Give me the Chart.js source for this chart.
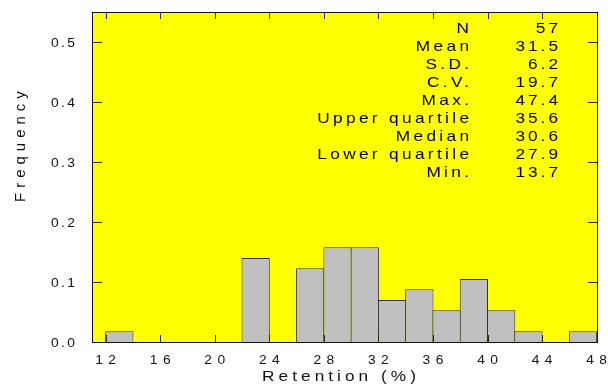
<!DOCTYPE html>
<html>
<head>
<meta charset="utf-8">
<script src="https://cdn.jsdelivr.net/npm/chart.js@4.4.0/dist/chart.umd.min.js"></script>
<style>
  html, body { margin: 0; padding: 0; background: #ffffff; }
  #wrap { width: 608px; height: 386px; }
</style>
</head>
<body>
<div id="wrap"><canvas id="chart" width="608" height="386"></canvas></div>
<script>
// Histogram of retention (%), bins 2 units wide
const binStarts = [12, 22, 26, 28, 30, 32, 34, 36, 38, 40, 42, 46];
const frequencies = [0.018, 0.140, 0.123, 0.158, 0.158, 0.070, 0.088, 0.053, 0.105, 0.053, 0.018, 0.018];
const binWidth = 2;

// Axis ticks
const xTicks = [12, 16, 20, 24, 28, 32, 36, 40, 44, 48];
const yTicks = [0, 0.1, 0.2, 0.3, 0.4, 0.5];

// Summary statistics panel
const statLabels = ['N', 'Mean', 'S.D.', 'C.V.', 'Max.', 'Upper quartile', 'Median', 'Lower quartile', 'Min.'];
const statValues = ['57', '31.5', '6.2', '19.7', '47.4', '35.6', '30.6', '27.9', '13.7'];

const FONT = '"Liberation Sans", Arial, Helvetica, sans-serif';

// wide, loosely spaced text: (x, y) is the visible anchor for the given alignment
function wideText(ctx, text, x, y, opts) {
  const sx = opts.stretch, ls = opts.spacing;
  ctx.save();
  ctx.font = opts.size + 'px ' + FONT;
  ctx.letterSpacing = ls + 'px';
  ctx.textAlign = opts.align;
  ctx.textBaseline = 'alphabetic';
  let shift = 0;
  if (opts.align === 'right') shift = ls * sx;
  else if (opts.align === 'center') shift = ls * sx / 2;
  ctx.translate(x + shift, y);
  ctx.scale(sx, 1);
  ctx.fillText(text, 0, 0);
  ctx.restore();
}

const framePlugin = {
  id: 'frame',
  beforeDraw(chart) {
    const { ctx, chartArea: a } = chart;
    ctx.save();
    ctx.fillStyle = '#ffffff';
    ctx.fillRect(0, 0, chart.width, chart.height);
    ctx.fillStyle = '#ffff00';
    ctx.fillRect(a.left, a.top, a.right - a.left, a.bottom - a.top);
    ctx.restore();
  },
  afterDatasetsDraw(chart) {
    const { ctx, chartArea: a, scales } = chart;
    ctx.save();
    ctx.strokeStyle = '#2a2a00';
    ctx.lineWidth = 1;
    ctx.beginPath();
    xTicks.forEach(v => {
      const px = Math.round(scales.x.getPixelForValue(v)) + 0.5;
      ctx.moveTo(px, a.bottom); ctx.lineTo(px, a.bottom - 7);
      ctx.moveTo(px, a.top); ctx.lineTo(px, a.top + 7);
    });
    yTicks.forEach(v => {
      const py = Math.round(scales.y.getPixelForValue(v)) + 0.5;
      ctx.moveTo(a.left, py); ctx.lineTo(a.left + 10, py);
      ctx.moveTo(a.right, py); ctx.lineTo(a.right - 10, py);
    });
    ctx.stroke();
    ctx.strokeStyle = '#111111';
    ctx.strokeRect(Math.round(a.left) + 0.5, Math.round(a.top) + 0.5,
                   Math.round(a.right - a.left) - 1, Math.round(a.bottom - a.top));
    ctx.restore();
  },
  afterDraw(chart) {
    const { ctx, scales } = chart;
    ctx.save();
    ctx.fillStyle = '#111111';

    // tick labels
    xTicks.forEach(v => {
      wideText(ctx, String(v), scales.x.getPixelForValue(v), 364,
               { size: 12, stretch: 1.15, spacing: 4.7, align: 'center' });
    });
    yTicks.forEach(v => {
      wideText(ctx, v.toFixed(1), 75, scales.y.getPixelForValue(v) + 5.3,
               { size: 12, stretch: 1.15, spacing: 2.1, align: 'right' });
    });

    // statistics panel
    ctx.fillStyle = '#000000';
    statLabels.forEach((label, i) => {
      const y = 33.3 + 18 * i;
      wideText(ctx, label, 469, y, { size: 15, stretch: 1.15, spacing: 2.9, align: 'right' });
      wideText(ctx, statValues[i], 558, y, { size: 15, stretch: 1.15, spacing: 2.6, align: 'right' });
    });

    // axis titles
    ctx.fillStyle = '#111111';
    wideText(ctx, 'Retention (%)', 339, 381, { size: 15, stretch: 1.15, spacing: 3.5, align: 'center' });
    ctx.save();
    ctx.font = '15px ' + FONT;
    ctx.letterSpacing = '5px';
    ctx.textAlign = 'left';
    ctx.translate(25, 202);
    ctx.rotate(-Math.PI / 2);
    ctx.fillText('Frequency', 0, 0);
    ctx.restore();
    ctx.restore();
  }
};

new Chart(document.getElementById('chart'), {
  type: 'bar',
  data: {
    datasets: [{
      data: binStarts.map((s, i) => ({ x: s + binWidth / 2, y: frequencies[i] })),
      backgroundColor: '#c0c0c0',
      borderColor: '#2e2e2e',
      borderWidth: 1,
      borderSkipped: 'start',
      inflateAmount: 0,
      barPercentage: 1,
      categoryPercentage: 1.0366
    }]
  },
  options: {
    responsive: false,
    animation: false,
    devicePixelRatio: 1,
    layout: { padding: { top: 12, right: 10, left: 0, bottom: 0 } },
    plugins: { legend: { display: false }, tooltip: { enabled: false }, title: { display: false } },
    scales: {
      x: {
        type: 'linear',
        min: 11,
        max: 48.1,
        offset: false,
        grid: { display: false, drawTicks: false, offset: false },
        border: { display: false },
        ticks: { display: false },
        afterFit(scale) { scale.height = 44; }
      },
      y: {
        type: 'linear',
        min: 0,
        max: 0.55,
        grid: { display: false, drawTicks: false },
        border: { display: false },
        ticks: { display: false },
        afterFit(scale) { scale.width = 92; }
      }
    }
  },
  plugins: [framePlugin]
});
</script>
</body>
</html>
